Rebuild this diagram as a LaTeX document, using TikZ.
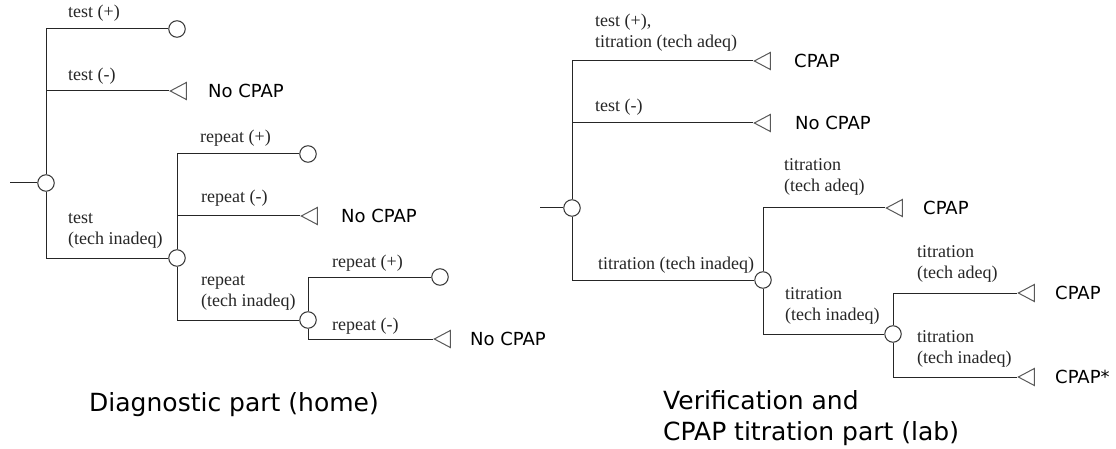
\documentclass[tikz,border=0pt]{standalone}
\usepackage{fontspec}
\usetikzlibrary{shapes.geometric}
\newfontfamily\lblfont{Liberation Serif}
\newfontfamily\endfont{DejaVu Sans}
\tikzset{
 conn/.style={draw=black!85, line width=1pt},
 chance/.style={circle, draw=black!80, line width=1pt, fill=white, minimum size=16.5pt, inner sep=0pt},
 term/.style={isosceles triangle, isosceles triangle stretches, shape border rotate=180, draw=black!65, line width=1pt, fill=white, minimum width=17pt, minimum height=16pt, inner sep=0pt, anchor=apex},
 blabel/.style={font=\lblfont\fontsize{18}{21}\selectfont, anchor=base west, inner sep=0pt, align=left, text=black!85},
 blabeltwo/.style={blabel, anchor=south west},
 tlabel/.style={font=\endfont\fontsize{18}{22}\selectfont, anchor=west, inner sep=0pt},
 captext/.style={font=\endfont\fontsize{25}{31}\selectfont, anchor=base west, inner sep=0pt, align=left},
}
\begin{document}
\begin{tikzpicture}[x=1pt,y=-1pt]
\useasboundingbox (0,0) rectangle (1116,449);
% ---------- left tree ----------
\coordinate (s0) at (10,183);
\node[chance] (c0) at (46,183) {};
\node[chance] (e1) at (177,29) {};
\node[term] (t1) at (169,91) {};
\node[chance] (c1) at (177,258) {};
\node[chance] (e2) at (308,154) {};
\node[term] (t2) at (300,216) {};
\node[chance] (c2) at (308,320) {};
\node[chance] (e3) at (440,277) {};
\node[term] (t3) at (433,339) {};
\draw[conn] (s0) -- (c0.west);
\draw[conn] (c0.north) |- (e1.west);
\draw[conn] (c0.north) |- (t1.apex);
\draw[conn] (c0.south) |- (c1.west);
\draw[conn] (c1.north) |- (e2.west);
\draw[conn] (c1.north) |- (t2.apex);
\draw[conn] (c1.south) |- (c2.west);
\draw[conn] (c2.north) |- (e3.west);
\draw[conn] (c2.south) |- (t3.apex);
\node[blabel] (l1) at (68,18) {test (+)};
\node[blabel] (l2) at (68,81) {test (-)};
\node[blabeltwo] (l3) at (68,249) {test\\(tech inadeq)};
\node[blabel] (l4) at (200,143) {repeat (+)};
\node[blabel] (l5) at (201,203) {repeat (-)};
\node[blabeltwo] (l6) at (201,311) {repeat\\(tech inadeq)};
\node[blabel] (l7) at (332,267) {repeat (+)};
\node[blabel] (l8) at (332,330) {repeat (-)};
\node[tlabel] (o1) at (208,91) {No CPAP};
\node[tlabel] (o2) at (341,216) {No CPAP};
\node[tlabel] (o3) at (470,339) {No CPAP};
% ---------- right tree ----------
\coordinate (s1) at (540,208);
\node[chance] (d0) at (572,208) {};
\node[term] (u1) at (753,61) {};
\node[term] (u2) at (753,123) {};
\node[chance] (d1) at (763,280) {};
\node[term] (u3) at (885,208) {};
\node[chance] (d2) at (893,334) {};
\node[term] (u4) at (1017,293) {};
\node[term] (u5) at (1017,377) {};
\draw[conn] (s1) -- (d0.west);
\draw[conn] (d0.north) |- (u1.apex);
\draw[conn] (d0.north) |- (u2.apex);
\draw[conn] (d0.south) |- (d1.west);
\draw[conn] (d1.north) |- (u3.apex);
\draw[conn] (d1.south) |- (d2.west);
\draw[conn] (d2.north) |- (u4.apex);
\draw[conn] (d2.south) |- (u5.apex);
\node[blabeltwo] (m1) at (595,52) {test (+),\\titration (tech adeq)};
\node[blabel] (m2) at (595,112) {test (-)};
\node[blabel] (m3) at (598,269) {titration (tech inadeq)};
\node[blabeltwo] (m4) at (784,196) {titration\\(tech adeq)};
\node[blabeltwo] (m5) at (785,325) {titration\\(tech inadeq)};
\node[blabeltwo] (m6) at (917,283) {titration\\(tech adeq)};
\node[blabeltwo] (m7) at (917,368) {titration\\(tech inadeq)};
\node[tlabel] (p1) at (794,61) {CPAP};
\node[tlabel] (p2) at (795,123) {No CPAP};
\node[tlabel] (p3) at (923,208) {CPAP};
\node[tlabel] (p4) at (1055,293) {CPAP};
\node[tlabel] (p5) at (1055,377) {CPAP*};
% ---------- captions ----------
\node[captext] (cap1) at (89,411) {Diagnostic part (home)};
\node[captext, anchor=south west] (cap2) at (663,446) {Verification and\\CPAP titration part (lab)};
\end{tikzpicture}
\end{document}
